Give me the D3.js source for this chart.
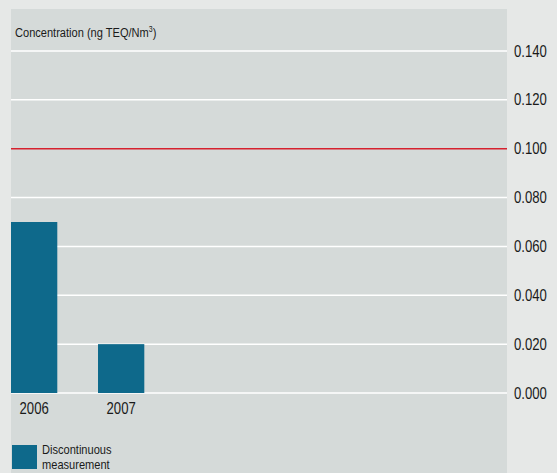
<!DOCTYPE html>
<html>
<head>
<meta charset="utf-8">
<script src="https://cdn.jsdelivr.net/npm/d3@7"></script>
<style>
  html, body { margin: 0; padding: 0; background: #e6e8e7; }
  svg { display: block; }
  text { font-family: "Liberation Sans", Arial, sans-serif; fill: #1a1a1a; }
</style>
</head>
<body>
<svg id="chart" width="557" height="473"></svg>
<script>
// Dioxin concentration, annual discontinuous measurements
const years = ["2006", "2007"];
const concentration = [0.070, 0.020];
const yTicks = [0, 0.02, 0.04, 0.06, 0.08, 0.10, 0.12, 0.14];
const limitValue = 0.100;
const unitLabel = "Concentration (ng TEQ/Nm";
const legendLines = ["Discontinuous", "measurement"];

const W = 557, H = 473;
const panel = { left: 11, right: 507, top: 9, bottom: 473 };
const NARROW = 0.82; // horizontal squeeze for a condensed look

const svg = d3.select("#chart");

// squeeze a text element horizontally, keeping its anchor point
function condense(sel) {
  sel.each(function () {
    const len = this.getComputedTextLength();
    d3.select(this)
      .attr("textLength", len * NARROW)
      .attr("lengthAdjust", "spacingAndGlyphs");
  });
}

svg.append("rect")
  .attr("width", W).attr("height", H)
  .attr("fill", "#e6e8e7");

svg.append("rect")
  .attr("x", panel.left).attr("y", panel.top)
  .attr("width", panel.right - panel.left)
  .attr("height", panel.bottom - panel.top)
  .attr("fill", "#d5dad9");

const y = d3.scaleLinear().domain([0, 0.14]).range([393, 51]);

const x = d3.scaleBand()
  .domain(years)
  .range([panel.left, 144.3])
  .paddingInner(0.468)
  .paddingOuter(0);

// horizontal grid
svg.append("g")
  .selectAll("line")
  .data(yTicks.filter(t => t !== limitValue))
  .join("line")
  .attr("x1", panel.left).attr("x2", panel.right)
  .attr("y1", d => y(d)).attr("y2", d => y(d))
  .attr("stroke", "#ffffff")
  .attr("stroke-width", 1.5);

// bars
svg.append("g")
  .selectAll("rect")
  .data(years.map((yr, i) => ({ yr, v: concentration[i] })))
  .join("rect")
  .attr("x", d => x(d.yr))
  .attr("width", x.bandwidth())
  .attr("y", d => y(d.v))
  .attr("height", d => y(0) - y(d.v))
  .attr("fill", "#0e698b");

// limit value line
svg.append("line")
  .attr("x1", panel.left).attr("x2", panel.right)
  .attr("y1", y(limitValue)).attr("y2", y(limitValue))
  .attr("stroke", "#d6212e")
  .attr("stroke-width", 1.5);

// right value axis
const yAxis = d3.axisRight(y)
  .tickValues(yTicks)
  .tickFormat(d3.format(".3f"))
  .tickSize(0)
  .tickPadding(0);

const yg = svg.append("g")
  .attr("transform", `translate(514,0)`)
  .call(yAxis);
yg.select(".domain").remove();
yg.selectAll("text")
  .attr("font-size", 16)
  .attr("fill", "#1a1a1a")
  .style("font-family", '"Liberation Sans", Arial, sans-serif')
  .call(condense);

// category axis
const xAxis = d3.axisBottom(x).tickSize(0).tickPadding(0);
const xg = svg.append("g")
  .attr("transform", `translate(0,${y(0) + 21})`)
  .call(xAxis);
xg.select(".domain").remove();
xg.selectAll("text")
  .attr("dy", 0)
  .attr("font-size", 16)
  .attr("fill", "#1a1a1a")
  .style("font-family", '"Liberation Sans", Arial, sans-serif')
  .call(condense);

// unit title (squeezed as a whole group)
const titleG = svg.append("g")
  .attr("transform", `translate(15,37) scale(${NARROW},1)`);
const title = titleG.append("text")
  .attr("x", 0).attr("y", 0)
  .attr("font-size", 13.5);
title.append("tspan").text(unitLabel);
title.append("tspan").attr("font-size", 8.5).attr("dy", -5).text("3");
title.append("tspan").attr("dy", 5).text(")");

// legend
svg.append("rect")
  .attr("x", 12).attr("y", 445)
  .attr("width", 25).attr("height", 24)
  .attr("fill", "#0e698b");

svg.append("g")
  .selectAll("text")
  .data(legendLines)
  .join("text")
  .attr("x", 42)
  .attr("y", (d, i) => 454 + i * 15)
  .attr("font-size", 13.5)
  .text(d => d)
  .call(condense);
</script>
</body>
</html>
